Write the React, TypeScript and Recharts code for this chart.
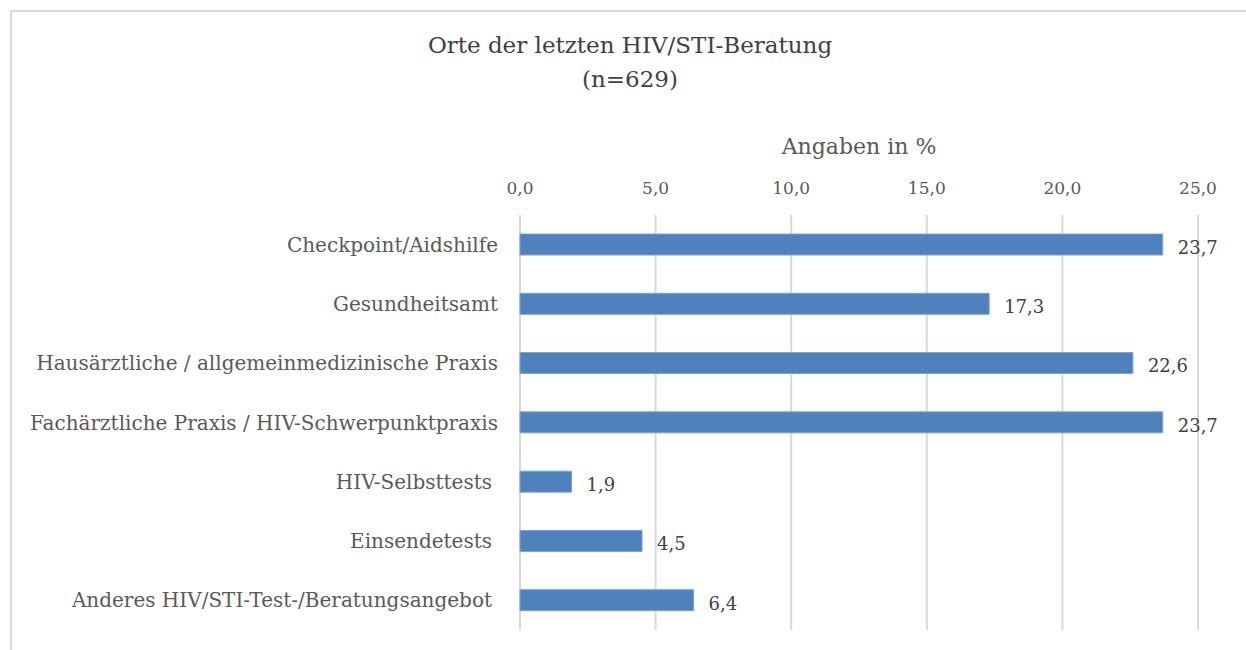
import { Bar, BarChart, CartesianGrid, LabelList, XAxis, YAxis } from 'recharts'

const CATEGORIES = [
  'Checkpoint/Aidshilfe',
  'Gesundheitsamt',
  'Hausärztliche / allgemeinmedizinische Praxis',
  'Fachärztliche Praxis / HIV-Schwerpunktpraxis',
  'HIV-Selbsttests',
  'Einsendetests',
  'Anderes HIV/STI-Test-/Beratungsangebot',
]
const VALUES = [23.7, 17.3, 22.6, 23.7, 1.9, 4.5, 6.4]
const X_TICKS = [0, 5, 10, 15, 20, 25]

const FONT = '"DejaVu Serif", serif'
const TEXT = '#595959'

const chartData = CATEGORIES.map((name, i) => ({ name, value: VALUES[i] }))

const comma = (v: number) => v.toFixed(1).replace('.', ',')

function CategoryTick(props: any) {
  const { x, y, payload, index } = props
  // Excel pushed the lower three labels a little further left
  const dx = index < 4 ? -14 : -20
  return (
    <text x={x + dx} y={y} dy={7} textAnchor="end" fontFamily={FONT} fontSize={20} fill={TEXT}>
      {payload.value}
    </text>
  )
}

function ValueTick(props: any) {
  const { x, payload } = props
  return (
    <text x={x} y={194} textAnchor="middle" fontFamily={FONT} fontSize={17} fill={TEXT}>
      {comma(payload.value)}
    </text>
  )
}

export default function App() {
  return (
    <div style={{ position: 'absolute', left: 0, top: 0, width: 1246, height: 650, overflow: 'hidden', background: '#fff' }}>
      <div
        style={{
          position: 'absolute',
          left: 10,
          top: 10,
          width: 1260,
          height: 670,
          border: '2px solid #d9d9d9',
        }}
      />
      <div
        style={{
          position: 'absolute',
          left: 0,
          width: 1260,
          top: 28,
          textAlign: 'center',
          fontFamily: FONT,
          fontSize: 23,
          lineHeight: '34px',
          color: '#404040',
        }}
      >
        Orte der letzten HIV/STI-Beratung
        <br />
        (n=629)
      </div>
      <div
        style={{
          position: 'absolute',
          left: 520,
          width: 678,
          top: 134,
          textAlign: 'center',
          fontFamily: FONT,
          fontSize: 22,
          color: TEXT,
        }}
      >
        Angaben in %
      </div>
      <div style={{ position: 'absolute', left: 0, top: 0 }}>
        <BarChart
          width={1246}
          height={650}
          data={chartData}
          layout="vertical"
          margin={{ top: 175, right: 48, bottom: 20, left: 0 }}
          barCategoryGap="32%"
        >
          <CartesianGrid horizontal={false} stroke="#d9d9d9" strokeWidth={2} />
          <XAxis
            type="number"
            orientation="top"
            domain={[0, 25]}
            ticks={X_TICKS}
            height={40}
            axisLine={false}
            tickLine={false}
            tick={<ValueTick />}
            interval={0}
          />
          <YAxis
            type="category"
            dataKey="name"
            width={520}
            axisLine={false}
            tickLine={false}
            tick={<CategoryTick />}
            interval={0}
          />
          <Bar dataKey="value" fill="#4f81bd" stroke="#7ea3d0" strokeWidth={1} barSize={21} isAnimationActive={false}>
            <LabelList
              dataKey="value"
              position="right"
              offset={15}
              formatter={(v: any) => comma(Number(v))}
              style={{ fontFamily: FONT, fontSize: 18, fill: '#404040' }}
              dy={3}
            />
          </Bar>
        </BarChart>
      </div>
    </div>
  )
}
